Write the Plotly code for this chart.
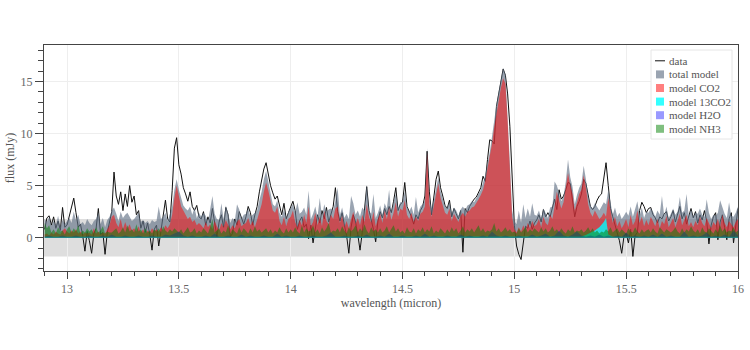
import numpy as np
import plotly.graph_objects as go

# Spectrum sampling (micron)
wl_start, wl_step, n_pts = 12.90, 0.01, 311
wavelength = np.round(wl_start + wl_step * np.arange(n_pts), 2)

# Observed flux (mJy)
data_flux = [
    0.8, 1.9, 2.1, 1.2, 2.0, 0.9, 1.6, 0.7, 2.9, 1.0,
    1.2, 2.0, 3.0, 3.8, 2.4, 1.0, 1.3, 0.2, -1.3, 0.6,
    -0.3, -1.5, 0.4, 0.9, 2.8, 0.3, 0.5, -1.6, 0.5, 1.6,
    2.5, 6.3, 4.0, 3.2, 4.4, 2.6, 4.2, 3.0, 5.0, 3.4,
    4.0, 2.2, 2.6, 0.9, 1.6, 0.5, 1.4, 0.3, -1.2, 0.8,
    1.2, -0.8, 0.6, 1.8, 3.6, 1.8, 1.5, 4.5, 8.6, 9.6,
    7.0, 6.1, 4.8, 4.2, 3.5, 4.4, 3.0, 2.6, 3.1, 2.0,
    1.8, 2.5, 1.2, 2.0, 1.4, 2.8, 1.6, 0.1, 1.5, 2.2,
    1.0, 2.9, 2.2, 0.1, 0.4, 1.8, 1.2, 2.5, 1.9, 1.3,
    2.0, 3.0, 2.4, 1.2, 2.2, 3.0, 4.4, 5.6, 6.6, 7.2,
    6.0, 5.0, 4.3, 3.7, 4.0, 3.0, 2.2, 3.3, 1.8, 2.4,
    2.9, 3.5, 2.6, 0.8, 1.6, 2.0, 1.0, 1.3, -0.1, 1.2,
    -0.5, 1.0, 2.2, 1.4, 2.6, 1.8, 2.9, 1.5, 2.3, 3.0,
    4.8, 2.5, 1.6, 2.4, 1.2, 0.2, -1.5, 1.0, 2.2, 1.5,
    0.3, -1.2, 0.5, 2.4, 4.9, 2.6, 1.8, 0.8, -0.4, 1.6,
    2.5, 1.9, 2.8, 2.2, 3.0, 2.4, 3.5, 4.8, 2.6, 3.2,
    3.4, 5.3, 3.0, 2.5, 2.0, 1.3, 2.2, 1.8, 2.6, 3.0,
    4.0, 8.3, 4.4, 2.2, 4.0, 5.6, 6.4, 4.8, 4.0, 3.1,
    2.8, 3.6, 2.0, 2.8, 2.3, 1.8, 2.6, -1.4, 2.8, 2.4,
    3.0, 3.4, 3.7, 3.9, 4.3, 4.8, 5.9, 5.4, 7.5, 9.4,
    9.3, 9.0, 12.6, 13.8, 14.6, 16.2, 15.6, 13.8, 10.7, 6.2,
    1.2, -0.8, -1.6, -2.1, -0.3, 1.1, 0.9, 1.6, 0.8, 1.4,
    1.7, 2.2, 1.5, 2.7, 2.0, 2.4, 2.0, 2.9, 3.7, 2.7,
    4.6, 3.7, 4.0, 4.6, 5.3, 5.2, 3.7, 2.0, 3.0, 3.5,
    4.2, 5.6, 5.2, 3.9, 3.0, 2.7, 3.0, 3.6, 4.0, 4.2,
    5.6, 7.2, 5.0, 2.8, 2.0, 1.2, 0.4, -0.3, -1.5, 0.1,
    0.4, -0.5, 0.8, -1.8, 0.2, 0.5, 2.6, 3.4, 3.0, 2.4,
    2.8, 2.9, 2.2, 1.9, 1.4, 2.0, 1.8, 2.3, 2.5, 1.6,
    2.0, 2.6, 1.5, 2.2, 3.0, 1.8, 2.4, 1.3, 2.1, 2.8,
    1.9, 2.5, 1.4, 2.2, 1.7, 2.6, 1.6, -0.6, 1.2, 2.0,
    2.4, -0.2, 1.5, 2.2, 1.0, -0.2, 1.8, 2.4, -0.5, 1.4, 2.8,
]

# Total slab model (mJy)
total_model = [
    1.8, 1.5, 2.0, 1.1, 1.6, 1.2, 2.1, 1.0, 1.7, 1.3,
    1.6, 1.9, 1.4, 2.5, 1.7, 2.2, 1.3, 1.5, 1.2, 1.8,
    1.4, 1.2, 1.6, 1.8, 2.4, 1.3, 1.9, 1.0, 1.7, 2.0,
    2.6, 2.9, 2.3, 1.6, 2.5, 1.9, 2.2, 2.4, 2.0, 1.6,
    1.8, 2.1, 2.4, 1.5, 1.7, 1.4, 1.6, 1.3, 1.7, 1.5,
    1.6, 3.0, 1.8, 2.0, 2.4, 1.6, 2.2, 3.0, 4.6, 5.6,
    4.6, 3.7, 3.1, 2.8, 2.6, 3.0, 2.2, 2.9, 1.9, 2.4,
    2.0, 2.4, 2.1, 1.5, 2.6, 4.0, 2.3, 1.8, 1.7, 3.3,
    1.8, 3.1, 2.4, 1.4, 1.9, 1.6, 3.2, 2.7, 1.8, 2.2,
    2.3, 2.8, 2.0, 2.2, 2.4, 2.6, 3.6, 4.4, 5.6, 6.4,
    5.4, 4.3, 3.2, 3.0, 3.6, 2.4, 2.0, 2.7, 1.9, 2.5,
    2.8, 3.2, 2.4, 3.4, 2.3, 2.5, 2.9, 2.2, 4.5, 1.8,
    2.3, 3.0, 2.0, 3.8, 2.0, 3.2, 2.5, 2.7, 2.8, 2.6,
    3.6, 4.8, 2.2, 2.9, 1.9, 2.3, 1.8, 4.0, 3.3, 2.2,
    2.6, 2.0, 2.9, 2.6, 5.1, 2.6, 2.3, 4.2, 1.9, 2.4,
    3.1, 2.2, 3.3, 2.8, 4.6, 2.5, 3.4, 4.2, 2.8, 3.4,
    3.4, 4.4, 3.0, 2.5, 3.0, 2.2, 3.9, 2.4, 3.0, 3.2,
    3.6, 8.6, 3.8, 2.8, 3.6, 4.8, 5.8, 4.5, 3.7, 3.0,
    2.9, 3.4, 2.3, 2.9, 2.6, 2.1, 2.7, 3.0, 2.6, 3.1,
    3.2, 3.5, 3.4, 3.8, 4.3, 4.6, 5.3, 6.0, 7.2, 8.2,
    9.7, 11.4, 12.8, 14.0, 15.1, 16.3, 15.7, 12.0, 7.2, 2.6,
    1.6, 1.3, 2.6, 1.4, 3.2, 1.9, 2.8, 2.0, 3.3, 2.2,
    2.1, 2.6, 1.9, 2.8, 2.4, 1.9, 2.9, 3.0, 5.4, 5.0,
    4.3, 3.5, 4.0, 5.4, 7.5, 5.8, 4.9, 3.2, 4.1, 4.8,
    5.2, 6.9, 5.6, 4.0, 3.1, 2.8, 3.3, 3.0, 2.6, 3.0,
    3.4, 3.2, 4.6, 3.4, 2.2, 2.9, 2.0, 2.4, 1.8, 2.1,
    2.5, 2.1, 3.0, 2.0, 2.7, 3.5, 2.1, 2.9, 1.9, 2.5,
    2.4, 2.8, 2.5, 2.0, 2.6, 2.2, 4.0, 2.1, 3.0, 1.9,
    2.3, 2.8, 2.2, 2.5, 3.9, 2.4, 2.6, 4.2, 2.0, 2.7,
    2.0, 2.4, 2.3, 2.8, 2.2, 2.0, 3.7, 2.4, 1.8, 2.2,
    2.1, 2.4, 3.6, 2.9, 2.3, 1.9, 3.4, 2.1, 2.0, 2.4, 3.0,
]

# CO2 component (mJy)
co2_model = [
    0.3, 0.4, 0.2, 0.5, 0.3, 0.6, 0.4, 0.3, 0.7, 0.9,
    0.6, 0.4, 0.7, 0.5, 0.8, 0.4, 0.6, 0.3, 0.5, 0.4,
    0.5, 0.3, 0.9, 0.4, 0.6, 0.3, 0.5, 0.4, 0.8, 1.2,
    2.0, 2.2, 1.4, 1.0, 1.8, 0.8, 1.5, 0.9, 1.3, 0.7,
    0.9, 0.6, 1.1, 0.5, 0.8, 0.4, 0.7, 0.5, 0.9, 0.6,
    0.8, 0.6, 1.0, 0.7, 1.2, 0.9, 1.3, 2.2, 3.8, 5.0,
    4.0, 3.0, 2.6, 2.2, 1.8, 2.0, 1.5, 1.7, 1.2, 1.4,
    1.2, 0.9, 1.5, 1.0, 1.3, 0.8, 1.6, 1.1, 0.7, 1.4,
    1.0, 1.7, 1.3, 0.8, 1.2, 0.9, 1.5, 1.8, 1.1, 1.3,
    1.4, 1.9, 1.2, 1.6, 1.0, 1.8, 2.4, 3.2, 4.4, 5.3,
    4.5, 3.6, 2.6, 2.4, 3.0, 1.6, 1.2, 2.0, 1.1, 1.8,
    2.0, 2.6, 1.5, 1.0, 1.7, 1.2, 2.2, 1.4, 3.0, 1.1,
    1.5, 2.4, 1.2, 2.0, 1.1, 2.6, 1.6, 1.3, 2.2, 1.8,
    2.8, 3.0, 1.4, 2.1, 1.0, 1.6, 0.9, 1.8, 2.5, 1.3,
    1.9, 1.2, 2.2, 1.5, 3.2, 2.0, 1.4, 2.5, 1.1, 1.8,
    2.3, 1.4, 2.6, 1.8, 2.9, 1.7, 2.4, 3.4, 2.0, 2.8,
    2.6, 3.6, 2.2, 1.8, 2.4, 1.5, 2.0, 1.6, 2.3, 2.5,
    3.0, 8.2, 3.2, 2.0, 3.0, 4.0, 5.2, 3.8, 3.0, 2.4,
    2.2, 2.8, 1.6, 2.3, 1.9, 1.5, 2.1, 2.4, 2.0, 2.5,
    2.6, 2.9, 3.0, 3.3, 3.7, 4.1, 4.6, 5.5, 6.6, 7.6,
    9.0, 10.6, 12.0, 13.2, 14.4, 15.3, 14.8, 11.2, 6.5, 2.0,
    0.8, 0.5, 1.0, 0.6, 1.2, 0.7, 1.4, 0.9, 1.6, 1.1,
    1.3, 1.8, 1.0, 2.0, 1.4, 1.2, 2.2, 1.8, 3.0, 4.4,
    3.6, 2.8, 3.4, 4.6, 6.2, 5.0, 4.2, 2.6, 3.4, 4.2,
    4.6, 6.0, 4.8, 3.2, 2.4, 2.0, 2.6, 2.2, 1.8, 2.0,
    2.4, 2.0, 3.8, 2.6, 1.4, 2.0, 1.1, 1.6, 0.9, 1.3,
    1.8, 1.0, 2.2, 1.2, 1.6, 2.6, 1.4, 2.0, 1.1, 1.7,
    1.2, 2.0, 1.5, 1.1, 1.8, 0.9, 1.6, 1.3, 2.1, 1.0,
    1.4, 1.9, 1.0, 1.6, 2.3, 1.2, 1.7, 2.2, 1.1, 1.5,
    1.0, 1.6, 1.2, 2.0, 1.4, 1.1, 1.9, 1.3, 0.9, 1.5,
    1.2, 1.8, 1.0, 2.2, 1.4, 1.0, 1.6, 1.3, 1.0, 1.5, 1.8,
]

# NH3 component (mJy)
nh3_model = [
    1.4, 0.9, 1.2, 0.5, 0.8, 0.4, 1.0, 0.6, 0.7, 0.3,
    0.8, 1.1, 0.5, 0.9, 0.6, 1.2, 0.4, 0.7, 0.5, 0.9,
    0.6, 0.8, 0.4, 1.0, 0.5, 0.7, 1.1, 0.4, 0.6, 0.5,
    0.5, 0.7, 0.9, 0.4, 0.6, 1.0, 0.5, 1.2, 0.6, 0.8,
    0.5, 1.3, 0.6, 0.8, 0.4, 0.9, 0.5, 0.7, 0.4, 0.8,
    0.6, 0.9, 0.5, 1.1, 0.7, 0.5, 0.8, 0.6, 0.9, 0.7,
    0.5, 0.8, 0.4, 0.7, 1.0, 0.5, 0.6, 0.9, 0.4, 0.7,
    0.5, 0.9, 0.6, 0.4, 1.0, 1.8, 0.5, 0.7, 0.9, 0.4,
    0.7, 0.5, 1.2, 0.4, 0.8, 0.6, 0.4, 1.0, 0.5, 0.9,
    0.6, 0.4, 0.9, 0.5, 1.1, 0.6, 0.8, 0.5, 0.7, 0.9,
    0.5, 0.8, 0.4, 0.7, 0.5, 1.0, 0.6, 0.4, 0.9, 0.5,
    0.8, 0.5, 1.0, 0.6, 0.4, 1.2, 0.5, 0.9, 0.6, 0.7,
    1.2, 0.5, 0.8, 0.4, 1.0, 0.6, 0.9, 1.4, 0.5, 0.7,
    0.6, 0.9, 0.5, 1.1, 0.7, 0.4, 1.0, 0.6, 0.8, 1.2,
    0.5, 0.9, 0.6, 1.3, 0.7, 0.4, 1.0, 0.6, 0.8, 0.5,
    0.9, 0.5, 0.7, 1.1, 0.5, 0.8, 1.2, 0.6, 0.9, 0.5,
    0.7, 0.4, 1.0, 0.6, 0.5, 0.9, 0.4, 0.8, 0.6, 1.0,
    0.5, 0.8, 0.6, 1.1, 0.4, 0.7, 0.5, 0.9, 0.6, 0.4,
    0.8, 0.5, 1.0, 0.6, 0.9, 0.4, 0.7, 1.1, 0.5, 0.8,
    0.6, 0.9, 0.5, 0.8, 1.2, 0.6, 0.9, 0.5, 0.7, 0.6,
    0.8, 1.4, 0.6, 0.9, 0.5, 0.7, 1.0, 0.6, 0.8, 0.5,
    0.6, 0.4, 0.9, 0.5, 0.7, 1.0, 0.5, 0.8, 0.6, 0.9,
    0.7, 0.5, 1.0, 0.6, 0.9, 0.5, 0.7, 1.1, 0.6, 0.8,
    0.5, 0.9, 0.6, 0.4, 0.8, 0.6, 1.1, 0.5, 0.7, 0.6,
    0.8, 0.5, 0.7, 1.0, 0.6, 0.9, 0.5, 0.7, 0.4, 0.6,
    0.5, 0.8, 0.6, 1.0, 0.5, 0.7, 0.9, 0.5, 0.8, 0.6,
    0.4, 0.9, 0.6, 0.5, 1.0, 0.6, 0.4, 0.8, 0.5, 0.7,
    0.8, 0.5, 0.9, 0.6, 0.4, 1.0, 0.7, 0.5, 0.8, 0.6,
    0.5, 0.7, 1.0, 0.6, 0.4, 0.9, 0.5, 0.8, 0.6, 1.1,
    0.7, 0.5, 0.8, 0.4, 1.0, 0.6, 0.5, 0.9, 0.6, 0.4,
    0.8, 0.5, 1.2, 0.6, 0.9, 0.5, 0.7, 0.6, 1.0, 0.5, 0.7,
]

# H2O component on a 0.02 micron grid (mJy)
h2o_start, h2o_step, h2o_n = 12.90, 0.02, 156
h2o_wavelength = np.round(h2o_start + h2o_step * np.arange(h2o_n), 2)
h2o_model = [
    0.1, 0.2, 0.1, 0.1, 0.2, 0.1, 0.1, 0.2, 0.1, 0.1,
    0.2, 0.1, 0.1, 0.2, 0.1, 0.3, 0.1, 0.1, 0.2, 0.1,
    0.1, 0.2, 0.1, 0.1, 0.2, 0.1, 0.1, 0.3, 0.2, 0.4,
    0.6, 0.2, 0.1, 0.2, 0.1, 0.1, 0.2, 0.1, 0.4, 0.1,
    0.1, 0.2, 0.1, 0.1, 0.3, 0.1, 0.2, 0.1, 0.1, 0.2,
    0.1, 0.1, 0.4, 0.1, 0.2, 0.1, 0.1, 0.2, 0.1, 0.1,
    0.2, 0.1, 0.1, 0.2, 0.5, 0.1, 0.1, 0.2, 0.1, 0.1,
    0.2, 0.1, 0.3, 0.1, 0.1, 0.2, 0.1, 0.4, 0.1, 0.1,
    0.2, 0.1, 0.1, 0.2, 0.1, 0.4, 0.1, 0.2, 0.1, 0.1,
    0.2, 0.1, 0.1, 0.3, 0.1, 0.2, 0.1, 0.1, 0.2, 0.1,
    0.6, 0.2, 0.1, 0.2, 0.1, 0.1, 0.2, 0.1, 0.1, 0.3,
    0.1, 0.2, 0.4, 0.1, 0.2, 0.7, 0.2, 0.1, 0.3, 0.6,
    0.2, 0.1, 0.2, 0.1, 0.3, 0.1, 0.2, 0.1, 0.2, 0.1,
    0.5, 0.1, 0.2, 0.1, 0.2, 0.1, 0.3, 0.1, 0.4, 0.1,
    0.2, 0.1, 0.1, 0.6, 0.1, 0.2, 0.1, 0.2, 0.5, 0.1,
    0.2, 0.1, 0.3, 0.1, 0.7, 0.2,
]

# 13CO2 component, sampled where it varies (mJy)
c13_wavelength = [12.90, 13.20, 13.50, 13.80, 14.10, 14.40, 14.70, 15.00, 15.30,
                  15.32, 15.34, 15.36, 15.38, 15.40, 15.41, 15.42, 15.44, 15.70, 16.00]
c13_model = [0.08, 0.10, 0.08, 0.10, 0.08, 0.10, 0.08, 0.10, 0.12,
             0.25, 0.45, 0.70, 1.00, 1.50, 1.90, 0.30, 0.10, 0.08, 0.10]

# 1-sigma noise level (mJy)
noise_level = 1.8

serif = "Liberation Serif, Times New Roman, serif"
text_grey = "#555555"

# figure geometry (px)
W, H = 750, 350
M_L, M_R, M_T, M_B = 44, 12, 45, 79
plot_w, plot_h = W - M_L - M_R, H - M_T - M_B


def px_x(px):
    return (px - M_L) / plot_w


def px_y(py):
    return (H - M_B - py) / plot_h


styles = {
    "total model": "rgba(100,115,135,0.65)",
    "model CO2": "rgba(255,0,0,0.5)",
    "model 13CO2": "rgba(0,255,255,0.8)",
    "model H2O": "rgba(0,0,255,0.4)",
    "model NH3": "rgba(0,128,0,0.5)",
}

fig = go.Figure()

fig.add_trace(go.Scatter(
    x=wavelength, y=data_flux, name="data", mode="lines",
    line=dict(color="#111111", width=1), showlegend=False,
))
for name, xs, ys in [
    ("total model", wavelength, total_model),
    ("model CO2", wavelength, co2_model),
    ("model 13CO2", c13_wavelength, c13_model),
    ("model H2O", h2o_wavelength, h2o_model),
    ("model NH3", wavelength, nh3_model),
]:
    fig.add_trace(go.Scatter(
        x=xs, y=ys, name=name, mode="lines", fill="tozeroy",
        fillcolor=styles[name], line=dict(width=0, color=styles[name]),
        showlegend=False,
    ))

# noise band
fig.add_shape(type="rect", xref="paper", yref="y", x0=0, x1=1,
              y0=-noise_level, y1=noise_level,
              fillcolor="#dedede", line=dict(width=0), layer="below")

# legend box
fig.add_shape(type="rect", xref="paper", yref="paper",
              x0=px_x(651), x1=px_x(732), y0=px_y(139), y1=px_y(50),
              fillcolor="white", line=dict(color="#e6e6e6", width=1), layer="above")

legend_names = ["data", "total model", "model CO2", "model 13CO2", "model H2O", "model NH3"]
row0, row_step = 60.8, 13.6
for i, name in enumerate(legend_names):
    yc = row0 + i * row_step
    if name == "data":
        fig.add_shape(type="line", xref="paper", yref="paper",
                      x0=px_x(655), x1=px_x(665), y0=px_y(yc), y1=px_y(yc),
                      line=dict(color="#111111", width=1), layer="above")
    else:
        fig.add_shape(type="rect", xref="paper", yref="paper",
                      x0=px_x(656), x1=px_x(664), y0=px_y(yc + 4), y1=px_y(yc - 4),
                      fillcolor=styles[name], line=dict(width=0), layer="above")
    fig.add_annotation(xref="paper", yref="paper", x=px_x(667), y=px_y(yc),
                       xanchor="left", yanchor="middle", text=name, showarrow=False,
                       font=dict(family=serif, size=11, color=text_grey))

axis_common = dict(
    showline=True, linecolor="#444444", linewidth=1, mirror=True,
    ticks="outside", tickcolor="#444444",
    showgrid=True, gridcolor="#eeeeee", zeroline=False, automargin=False,
    tickfont=dict(family=serif, size=12, color="#666666"),
)

fig.update_layout(
    width=W, height=H,
    margin=dict(l=M_L, r=M_R, t=M_T, b=M_B),
    paper_bgcolor="white", plot_bgcolor="white",
    font=dict(family=serif, size=12, color=text_grey),
    showlegend=False,
    xaxis=dict(
        range=[12.897, 16.0], dtick=0.5, tick0=13, ticklen=7,
        title=dict(text="wavelength (micron)", standoff=3,
                   font=dict(family=serif, size=12, color=text_grey)),
        minor=dict(dtick=0.1, ticks="outside", ticklen=4, tickcolor="#444444", showgrid=False),
        **axis_common,
    ),
    yaxis=dict(
        range=[-3.2, 18.5], dtick=5, tick0=0, ticklen=8,
        title=dict(text="flux (mJy)", standoff=3,
                   font=dict(family=serif, size=12, color=text_grey)),
        minor=dict(dtick=1, ticks="outside", ticklen=5, tickcolor="#444444", showgrid=False),
        **axis_common,
    ),
)

fig.write_html("out.html")
